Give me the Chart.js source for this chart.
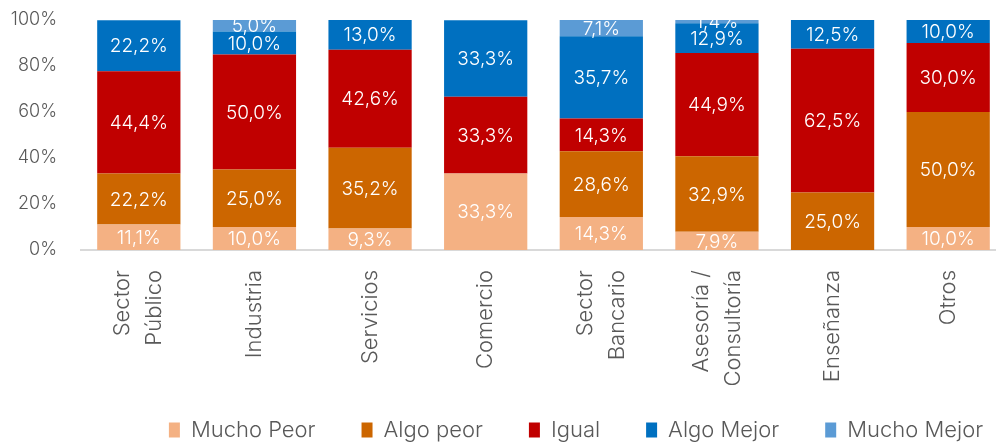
<!DOCTYPE html>
<html>
<head>
<meta charset="utf-8">
<script src="https://cdn.jsdelivr.net/npm/chart.js@4"></script>
<style>
  html, body { margin: 0; padding: 0; background: #fff; overflow: hidden; }
  #wrap { width: 1012px; height: 442px; }
</style>
</head>
<body>
<div id="wrap"><canvas id="myChart" width="1012" height="442"></canvas></div>
<script>
// Sectores (eje X)
var categorias = [['Sector', 'Público'], 'Industria', 'Servicios', 'Comercio',
                  ['Sector', 'Bancario'], ['Asesoría /', 'Consultoría'], 'Enseñanza', 'Otros'];

// Porcentajes por serie
var muchoPeor  = [11.1, 10.0,  9.3, 33.3, 14.3,  7.9,  0.0, 10.0];
var algoPeor   = [22.2, 25.0, 35.2,  0.0, 28.6, 32.9, 25.0, 50.0];
var igual      = [44.4, 50.0, 42.6, 33.3, 14.3, 44.9, 62.5, 30.0];
var algoMejor  = [22.2, 10.0, 13.0, 33.3, 35.7, 12.9, 12.5, 10.0];
var muchoMejor = [ 0.0,  5.0,  0.0,  0.0,  7.1,  1.4,  0.0,  0.0];

// Marcas del eje Y
var ticksY = [0, 20, 40, 60, 80, 100];

var fuente = 'Inter, Lato, "Open Sans", sans-serif';
var gris = '#595959';

// Etiquetas de datos dentro de cada segmento (recortadas al área del gráfico)
var etiquetasDatos = {
    id: 'etiquetasDatos',
    afterDatasetsDraw: function (chart) {
        var ctx = chart.ctx;
        var area = chart.chartArea;
        ctx.save();
        ctx.beginPath();
        ctx.rect(area.left, area.top, area.right - area.left, area.bottom - area.top);
        ctx.clip();
        ctx.font = '300 19px ' + fuente;
        ctx.fillStyle = '#ffffff';
        ctx.textAlign = 'center';
        ctx.textBaseline = 'middle';
        chart.data.datasets.forEach(function (ds, i) {
            var meta = chart.getDatasetMeta(i);
            meta.data.forEach(function (bar, j) {
                var v = ds.data[j];
                if (!v) return;
                var y = (bar.y + bar.base) / 2;
                ctx.fillText(v.toFixed(1).replace('.', ',') + '%', bar.x, y + 1);
            });
        });
        ctx.restore();
    }
};

// Recoloca la leyenda como en el original y deja sitio a las etiquetas del eje X
var moverLeyenda = {
    id: 'moverLeyenda',
    afterLayout: function (chart) {
        var lg = chart.legend;
        var pad = lg.options.labels.padding;
        var nuevoTop = 430 - pad - 11;
        var dy = nuevoTop - lg.top;
        lg.top += dy; lg.bottom += dy;
        var dx = 576 - (lg.left + lg.right) / 2;
        lg.left += dx; lg.right += dx;
        chart.scales.x.bottom = chart.height;
    }
};

var ctx = document.getElementById('myChart').getContext('2d');
var chart = new Chart(ctx, {
    type: 'bar',
    data: {
        labels: categorias,
        datasets: [
            { label: 'Mucho Peor',  data: muchoPeor,  backgroundColor: '#F4B183' },
            { label: 'Algo peor',   data: algoPeor,   backgroundColor: '#CC6600' },
            { label: 'Igual',       data: igual,      backgroundColor: '#C00000' },
            { label: 'Algo Mejor',  data: algoMejor,  backgroundColor: '#0070C0' },
            { label: 'Mucho Mejor', data: muchoMejor, backgroundColor: '#5B9BD5' }
        ]
    },
    options: {
        responsive: false,
        animation: false,
        layout: { padding: { top: 20, right: 6, left: 0, bottom: 0 } },
        datasets: {
            bar: { categoryPercentage: 1, barPercentage: 0.72, borderWidth: 0 }
        },
        scales: {
            x: {
                stacked: true,
                grid: { display: false, drawTicks: false },
                border: { display: true, color: '#d9d9d9', width: 2 },
                ticks: {
                    autoSkip: false,
                    maxRotation: 90,
                    minRotation: 90,
                    padding: 20,
                    labelOffset: -16,
                    color: gris,
                    font: { family: fuente, size: 22, weight: 300, lineHeight: '16px' },
                    // cada etiqueta en tres líneas para que las de dos queden centradas
                    callback: function (v, i) {
                        var c = categorias[i];
                        return Array.isArray(c) ? [c[0], '', c[1]] : ['', c, ''];
                    }
                },
                afterFit: function (scale) {
                    scale.height = scale.chart.height - 250 - scale.chart.legend.height;
                    scale.paddingLeft = 0;
                    scale.paddingRight = 0;
                }
            },
            y: {
                stacked: true,
                min: 0,
                max: 100,
                grid: { display: false, drawTicks: false },
                border: { display: false },
                afterBuildTicks: function (scale) {
                    scale.ticks = ticksY.map(function (v) { return { value: v }; });
                },
                ticks: {
                    padding: 24,
                    color: gris,
                    font: { family: fuente, size: 18, weight: 300 },
                    callback: function (v) { return v + '%'; }
                },
                afterFit: function (scale) {
                    scale.width = 81;
                    scale.paddingTop = 0;
                    scale.paddingBottom = 0;
                }
            }
        },
        plugins: {
            legend: {
                position: 'bottom',
                labels: {
                    boxWidth: 11,
                    boxHeight: 15,
                    padding: 46,
                    color: gris,
                    font: { family: fuente, size: 22, weight: 300 }
                }
            },
            tooltip: { enabled: false }
        }
    },
    plugins: [etiquetasDatos, moverLeyenda]
});
</script>
</body>
</html>
